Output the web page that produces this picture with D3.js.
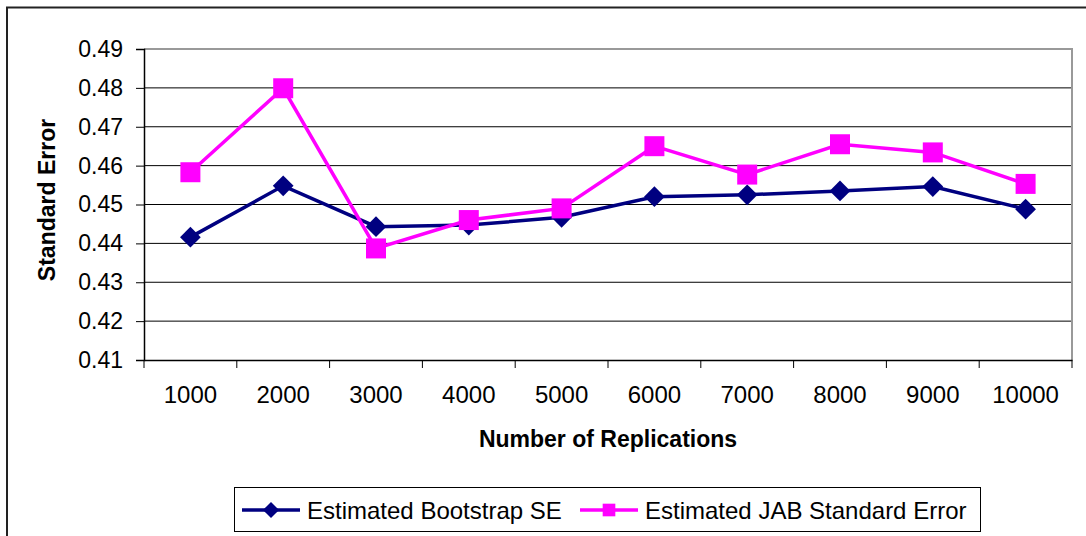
<!DOCTYPE html>
<html>
<head>
<meta charset="utf-8">
<script src="https://cdn.jsdelivr.net/npm/d3@7"></script>
<style>
  body { margin: 0; background: #fff; }
  svg { display: block; font-family: Arial, "Liberation Sans", sans-serif; }
</style>
</head>
<body>
<svg id="chart"></svg>
<script>
const replications = ['1000', '2000', '3000', '4000', '5000', '6000', '7000', '8000', '9000', '10000'];
const bootstrapSE = [0.4416, 0.4548, 0.4443, 0.4447, 0.4467, 0.4520, 0.4525, 0.4535, 0.4546, 0.4488];
const jabSE = [0.4583, 0.4799, 0.4387, 0.4460, 0.4490, 0.4650, 0.4577, 0.4655, 0.4634, 0.4553];
const yTicks = [0.41, 0.42, 0.43, 0.44, 0.45, 0.46, 0.47, 0.48, 0.49];

const W = 1086, H = 536;
const plot = { left: 144, right: 1072, top: 49, bottom: 360 };

const svg = d3.select('#chart').attr('width', W).attr('height', H);

// outer chart border (right and bottom fall outside the picture)
svg.append('rect')
  .attr('x', 7).attr('y', 7.5).attr('width', W + 10).attr('height', H + 10)
  .attr('fill', 'none').attr('stroke', '#222').attr('stroke-width', 2);

const x = d3.scaleBand()
  .domain(replications)
  .range([plot.left, plot.right]);

const y = d3.scaleLinear()
  .domain([0.41, 0.49])
  .range([plot.bottom, plot.top]);

// gridlines
svg.append('g')
  .selectAll('line')
  .data(yTicks.slice(1, -1))
  .enter().append('line')
  .attr('x1', plot.left).attr('x2', plot.right)
  .attr('y1', d => y(d)).attr('y2', d => y(d))
  .attr('stroke', '#000').attr('stroke-width', 1);

// plot area frame (top + right gray)
svg.append('path')
  .attr('d', `M${plot.left},${plot.top}H${plot.right}V${plot.bottom}`)
  .attr('fill', 'none').attr('stroke', '#999').attr('stroke-width', 2);

// y axis
const yAxis = svg.append('g')
  .attr('transform', `translate(${plot.left},0)`)
  .call(d3.axisLeft(y).tickValues(yTicks).tickFormat(d3.format('.2f')).tickSize(8).tickPadding(13));
yAxis.select('.domain').attr('stroke', '#000').attr('stroke-width', 1.5);
yAxis.selectAll('.tick line').attr('stroke', '#000');
yAxis.selectAll('.tick text').attr('font-size', 23).attr('fill', '#000').attr('font-family', 'Arial, "Liberation Sans", sans-serif');

// x axis with ticks at category boundaries
const xAxis = svg.append('g')
  .attr('transform', `translate(0,${plot.bottom})`)
  .call(d3.axisBottom(x).tickSize(0).tickPadding(26));
xAxis.select('.domain').attr('stroke', '#000').attr('stroke-width', 1.5);
xAxis.selectAll('.tick text').attr('font-size', 24).attr('fill', '#000').attr('font-family', 'Arial, "Liberation Sans", sans-serif');
xAxis.selectAll('.bound')
  .data(replications.map(d => x(d)).concat([plot.right]))
  .enter().append('line')
  .attr('class', 'bound')
  .attr('x1', d => d).attr('x2', d => d)
  .attr('y1', 0).attr('y2', 8)
  .attr('stroke', '#000');

// axis titles
svg.append('text')
  .attr('x', (plot.left + plot.right) / 2)
  .attr('y', 447)
  .attr('text-anchor', 'middle')
  .attr('font-size', 23).attr('font-weight', 'bold')
  .text('Number of Replications');

svg.append('text')
  .attr('transform', 'translate(55,200) rotate(-90)')
  .attr('text-anchor', 'middle')
  .attr('font-size', 23).attr('font-weight', 'bold')
  .text('Standard Error');

// series; diamond = square turned 45deg
const cx = d => x(d) + x.bandwidth() / 2;
const series = [
  { name: 'Estimated Bootstrap SE', values: bootstrapSE, color: '#000080', turn: 45, size: 215, legendSize: 130 },
  { name: 'Estimated JAB Standard Error', values: jabSE, color: '#ff00ff', turn: 0, size: 400, legendSize: 160 }
];

const line = d3.line()
  .x(d => cx(d.cat))
  .y(d => y(d.v));

series.forEach(s => {
  const pts = replications.map((c, i) => ({ cat: c, v: s.values[i] }));
  svg.append('path')
    .datum(pts)
    .attr('d', line)
    .attr('fill', 'none')
    .attr('stroke', s.color)
    .attr('stroke-width', 3.5);
  svg.append('g')
    .selectAll('path')
    .data(pts)
    .enter().append('path')
    .attr('d', d3.symbol().type(d3.symbolSquare).size(s.size))
    .attr('transform', d => `translate(${cx(d.cat)},${y(d.v)}) rotate(${s.turn})`)
    .attr('fill', s.color);
});

// legend
const legend = svg.append('g');
legend.append('rect')
  .attr('x', 234.5).attr('y', 487.5).attr('width', 746).attr('height', 44)
  .attr('fill', '#fff').attr('stroke', '#000').attr('stroke-width', 1);

const legendX = [242, 580];
series.forEach((s, i) => {
  const lx = legendX[i];
  legend.append('line')
    .attr('x1', lx).attr('x2', lx + 58)
    .attr('y1', 510).attr('y2', 510)
    .attr('stroke', s.color).attr('stroke-width', 3.5);
  legend.append('path')
    .attr('d', d3.symbol().type(d3.symbolSquare).size(s.legendSize)())
    .attr('transform', `translate(${lx + 29},510) rotate(${s.turn})`)
    .attr('fill', s.color);
  legend.append('text')
    .attr('x', lx + 65).attr('y', 518.5)
    .attr('font-size', 24)
    .text(s.name);
});
</script>
</body>
</html>
